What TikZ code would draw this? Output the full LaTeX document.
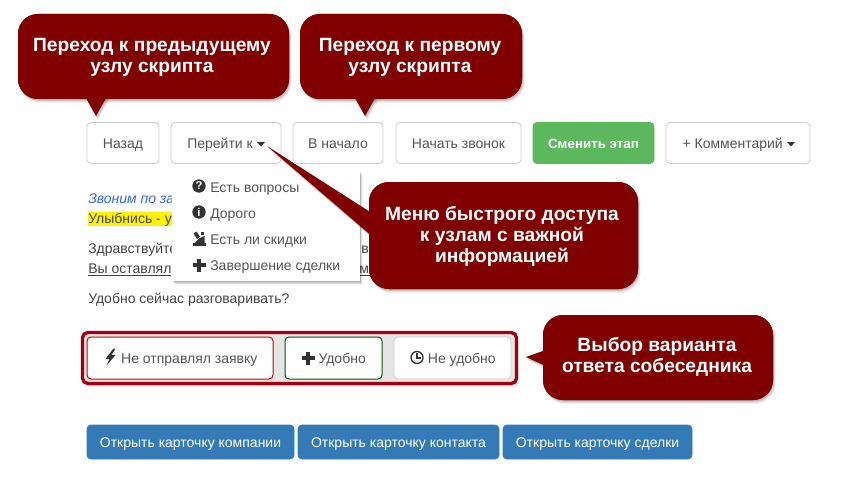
\documentclass[tikz,border=0pt]{standalone}
\usepackage{fontspec}
\setmainfont{Liberation Sans}
\usetikzlibrary{calc,shadows}
\definecolor{notered}{HTML}{800000}
\definecolor{btntext}{HTML}{555555}
\definecolor{btnline}{HTML}{CCCCCC}
\definecolor{bodytext}{HTML}{444444}
\definecolor{icondark}{HTML}{333333}
\definecolor{grpline}{HTML}{A00010}
\definecolor{stagegreen}{HTML}{5CB85C}
\definecolor{cardblue}{HTML}{337AB7}
\definecolor{linkblue}{HTML}{3366FF}
\tikzset{
  wd/.style={minimum width=#1*.75pt},
  ht/.style={minimum height=#1*.75pt},
  softshadow/.style={
    general shadow={fill=black,opacity=.10,shadow xshift=.4pt,shadow yshift=-.6pt},
    general shadow={fill=black,opacity=.10,shadow xshift=.9pt,shadow yshift=-1.4pt},
    general shadow={fill=black,opacity=.08,shadow xshift=1.4pt,shadow yshift=-2.2pt},
    general shadow={fill=black,opacity=.05,shadow xshift=1.9pt,shadow yshift=-3pt}},
  notebox/.style={fill=notered,rounded corners=15pt,inner sep=0pt},
  notetail/.style={fill=notered},
  notetext/.style={text=white,font=\fontsize{14.4}{15.75}\selectfont\bfseries,align=center,inner sep=0pt},
  btn/.style={draw=btnline,fill=white,rounded corners=3pt,line width=.6pt,text=btntext,
    font=\fontsize{10.5}{12}\selectfont,inner sep=0pt,ht=41,text height=9pt,text depth=1.5pt},
  stagebtn/.style={btn,draw=stagegreen,fill=stagegreen,text=white},
  cardbtn/.style={btn,draw=cardblue,fill=cardblue,text=white,ht=34},
  line/.style={anchor=base west,inner sep=0pt,text=bodytext,font=\fontsize{10.5}{12}\selectfont},
  menuline/.style={line,text=btntext},
  roundicon/.style={circle,fill=icondark,text=white,inner sep=0pt,minimum size=10pt,
    font=\fontsize{8.5}{8}\selectfont\bfseries},
  caretfill/.style={fill=icondark}
}
\newcommand{\caretat}[2]{\fill[caretfill] (#1-4,#2-2) -- (#1+4,#2-2) -- (#1,#2+2.5) -- cycle;}
\begin{document}
\begin{tikzpicture}[x=.75pt,y=-.75pt]
  \useasboundingbox (0,0) rectangle (860,503);
  \fill[white] (0,0) rectangle (860,503);
  % top row
  \node[btn,wd=72] (back) at (123,143) {Назад};
  \node[btn,wd=110] (goto) at (226,143) {\hspace*{-9pt}Перейти к};
  \node[btn,wd=90] (first) at (338,143) {В начало};
  \node[btn,wd=125] (call) at (458.5,143) {Начать звонок};
  \node[stagebtn,wd=121] (stage) at (593.5,143) {\bfseries\fontsize{10}{12}\selectfont Сменить этап};
  \node[btn,wd=144] (comment) at (738,143) {\hspace*{-8pt}+ Комментарий};
  \caretat{261}{144}
  \caretat{791}{144}
  % script text
  \fill[yellow] (88,211.5) rectangle (175,226);
  \fill[yellow] (360,211.5) rectangle (371,226);
  \node[line,text=linkblue,font=\fontsize{10.5}{12}\selectfont\itshape] (intro) at (88,203) {Звоним по за};
  \node[line] (smile) at (88,223) {Улыбнись - у};
  \node[line] (smileend) at (361,223) {h};
  \node[line] (hello) at (88,253) {Здравствуйте};
  \node[line] (helloend) at (361,253) {в};
  \node[line] (left) at (88,273) {\underline{Вы оставлял}};
  \node[line] (leftend) at (359,273) {\underline{ме}};
  \node[line] (ask) at (88,303) {Удобно сейчас разговаривать?};
  % menu
  \node[fill=white,softshadow,wd=188,ht=110,inner sep=0pt] (menu) at (266,226) {};
  \node[roundicon] (iconq) at (199,186) {?};
  \node[roundicon] (iconi) at (199,212) {i};
  \fill[icondark] (193,245.5) -- (205.5,245.5) -- (205.5,243) -- (193,243) -- cycle;
  \fill[icondark] (195,243) -- (204.5,243) -- (204.5,236) -- (199,238.5) -- cycle;
  \fill[icondark] (193.5,233.5) -- (196.5,231.5) -- (200,237) -- (197,239) -- cycle;
  \fill[icondark] (201,232) -- (204,232) -- (204,235) -- (201,235) -- cycle;
  \draw[icondark,line width=2.6pt] (192.5,265) -- (205.5,265) (199,258.5) -- (199,271.5);
  \node[menuline] (item1) at (210,192) {Есть вопросы};
  \node[menuline] (item2) at (210,218) {Дорого};
  \node[menuline] (item3) at (210,244) {Есть ли скидки};
  \node[menuline] (item4) at (210,270) {Завершение сделки};
  % answers
  \node[draw=grpline,line width=2.4pt,fill=black!10,rounded corners=4pt,softshadow,wd=434,ht=51,inner sep=0pt] (answers) at (299.5,358) {};
  \node[btn,draw=red!80!black,line width=.75pt,wd=186,ht=42] (noreq) at (180,358) {\hspace*{14pt}Не отправлял заявку};
  \node[btn,draw=green!35!black,line width=.75pt,wd=97,ht=42] (okay) at (333.5,358) {\hspace*{13pt}Удобно};
  \node[btn,wd=117,ht=42] (notok) at (452.5,358) {\hspace*{14pt}Не удобно};
  \fill[icondark] (113.5,348.5) -- (105.5,359) -- (109.5,359) -- (106.5,365.5) -- (115.5,355) -- (111.5,355) -- (115.5,348.5) -- cycle;
  \draw[icondark,line width=2.6pt] (301.5,358) -- (314.5,358) (308,351.5) -- (308,364.5);
  \draw[icondark,line width=1pt] (417,357.5) circle (6);
  \draw[icondark,line width=1pt] (417,353) -- (417,358) -- (421,358);
  % cards
  \node[cardbtn,wd=207] (company) at (190.5,442) {Открыть карточку компании};
  \node[cardbtn,wd=201] (contact) at (398.5,442) {Открыть карточку контакта};
  \node[cardbtn,wd=189] (deal) at (597.5,442) {Открыть карточку сделки};
  % notes
  \coordinate (tip1) at (96,116);
  \node[notebox,softshadow,wd=271,ht=85] (note1) at (153.5,56.5) {};
  \fill[notetail,softshadow] ($(note1.south)+(-68.5,-3)$) -- (tip1) -- ($(note1.south)+(-46.5,-3)$) -- cycle;
  \node[notebox,wd=271,ht=85] (note1top) at (note1) {};
  \node[notetext] (note1text) at (152,57) {Переход к предыдущему\\узлу скрипта};
  \coordinate (tip2) at (365,116);
  \node[notebox,softshadow,wd=222,ht=85] (note2) at (411,56.5) {};
  \fill[notetail,softshadow] ($(note2.south)+(-57,-3)$) -- (tip2) -- ($(note2.south)+(-35,-3)$) -- cycle;
  \node[notebox,wd=222,ht=85] (note2top) at (note2) {};
  \node[notetext] (note2text) at (410,57) {Переход к первому\\узлу скрипта};
  \coordinate (tip3) at (267,146);
  \node[notebox,softshadow,wd=269,ht=107] (note3) at (503.5,235.5) {};
  \fill[notetail,softshadow] ($(note3.west)+(3,-22.5)$) -- (tip3) -- ($(note3.west)+(3,.5)$) -- cycle;
  \node[notebox,wd=269,ht=107] (note3top) at (note3) {};
  \node[notetext] (note3text) at (502,236) {Меню быстрого доступа\\к узлам с важной\\информацией};
  \coordinate (tip4) at (526,357);
  \node[notebox,softshadow,wd=230,ht=85] (note4) at (658,357.5) {};
  \fill[notetail,softshadow] ($(note4.west)+(3,-7.5)$) -- (tip4) -- ($(note4.west)+(3,8.5)$) -- cycle;
  \node[notebox,wd=230,ht=85] (note4top) at (note4) {};
  \node[notetext] (note4text) at (657,357) {Выбор варианта\\ответа собеседника};
\end{tikzpicture}
\end{document}
